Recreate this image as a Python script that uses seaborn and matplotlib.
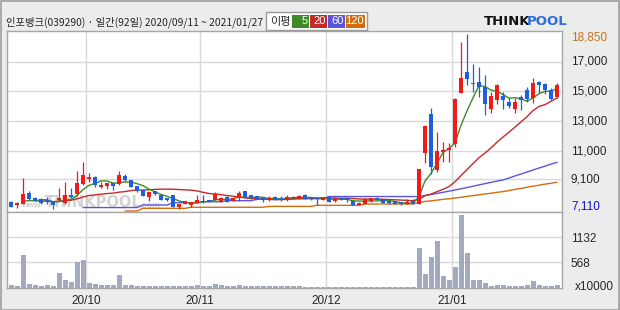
import numpy as np
import pandas as pd
import matplotlib
matplotlib.use("Agg")
import matplotlib.pyplot as plt
import matplotlib.transforms as mtrans
from matplotlib.patches import Rectangle
import seaborn as sns

# ---------------- data ----------------
title = "인포뱅크(039290) · 일간(92일) 2020/09/11 ~ 2021/01/27"
days_by_month = {
    (2020, 9): [11, 14, 15, 16, 17, 18, 21, 22, 23, 24, 25, 28, 29],
    (2020, 10): [5, 6, 7, 8, 12, 13, 14, 15, 16, 19, 20, 21, 22, 23, 26, 27, 28, 29, 30],
    (2020, 11): [2, 3, 4, 5, 6, 9, 10, 11, 12, 13, 16, 17, 18, 19, 20, 23, 24, 25, 26, 27, 30],
    (2020, 12): [1, 2, 3, 4, 7, 8, 9, 10, 11, 14, 15, 16, 17, 18, 21, 22, 23, 24, 28, 29, 30],
    (2021, 1): [4, 5, 6, 7, 8, 11, 12, 13, 14, 15, 18, 19, 20, 21, 22, 25, 26, 27],
}
opens = [7560, 7400, 7470, 8210, 7850, 7760, 7750, 7630, 7720, 7510,
         8070, 8120, 8810, 9130, 9280, 8570, 8680, 8860, 8770, 9350,
         9060, 8660, 8390, 7940, 8300, 8050, 7830, 8050, 7280, 7450,
         7400, 7510, 7650, 7720, 7720, 7600, 7940, 7650, 7830, 8320,
         8050, 7970, 7830, 7760, 7940, 7870, 7760, 7830, 7830, 8070,
         7900, 7870, 7720, 7900, 7650, 7830, 7830, 7630, 7400, 7450,
         7630, 7870, 7780, 7670, 7630, 7580, 7450, 7650, 7480, 10850,
         13480, 9760, 10940, 11050, 11470, 14910, 16280, 15540, 15610, 15280,
         13820, 14420, 14690, 14290, 13820, 14600, 15090, 14540, 15650, 15500,
         15090, 14650]
highs = [7620, 7550, 9210, 8290, 7900, 7820, 7920, 7680, 8550, 8940,
         8520, 9680, 10290, 9550, 9350, 8940, 8860, 8880, 9680, 9440,
         9080, 8680, 8400, 8280, 8320, 8070, 7850, 8080, 7470, 7650,
         7600, 8070, 8020, 7740, 8270, 7890, 7960, 7850, 8300, 8340,
         8070, 7990, 7850, 7990, 8000, 8000, 8030, 7960, 8030, 8140,
         7920, 7890, 7920, 7920, 7890, 7850, 7850, 7650, 7560, 7850,
         7850, 7890, 7800, 7690, 7650, 7600, 7780, 7760, 9810, 12720,
         13870, 12300, 11630, 11570, 14530, 18290, 18850, 16820, 16620, 16100,
         14980, 15500, 14980, 14540, 14540, 14760, 15300, 15880, 15720, 15580,
         15210, 15540]
lows = [7250, 7160, 7430, 7750, 7620, 7450, 7450, 7110, 7680, 7480,
        7870, 7990, 8720, 8940, 8610, 8540, 8430, 8390, 8740, 9000,
        8580, 8230, 7960, 7650, 8020, 7720, 7670, 7220, 7130, 7420,
        7270, 7490, 7540, 7580, 7690, 7580, 7580, 7620, 7650, 7910,
        7810, 7760, 7600, 7650, 7720, 7670, 7670, 7800, 7810, 7760,
        7740, 7360, 7700, 7580, 7580, 7700, 7600, 7380, 7380, 7430,
        7610, 7700, 7510, 7450, 7430, 7410, 7430, 7480, 7460, 10220,
        9460, 9620, 10290, 10290, 11290, 14860, 15430, 14960, 14630, 13420,
        13530, 14160, 13820, 13870, 13530, 13750, 14310, 14240, 14910, 14830,
        14420, 14580]
closes = [7270, 7510, 8120, 7800, 7670, 7510, 7580, 7400, 7870, 8070,
          7900, 8840, 9410, 9280, 8720, 8720, 8840, 8680, 9390, 9040,
          8610, 8350, 7990, 8250, 8130, 7750, 7700, 7250, 7450, 7630,
          7580, 7750, 7560, 7600, 8090, 7870, 7600, 7830, 8210, 7940,
          7830, 7780, 7720, 7870, 7800, 7800, 7940, 7940, 8000, 7780,
          7760, 7780, 7900, 7600, 7870, 7720, 7720, 7400, 7540, 7780,
          7830, 7720, 7540, 7520, 7450, 7430, 7560, 7500, 9800, 12680,
          9950, 11000, 11070, 11180, 14510, 15880, 15830, 15480, 15280, 14160,
          14690, 15430, 14420, 14020, 14310, 14420, 14490, 15580, 15430, 15090,
          14490, 15430]
volumes = [59, 37, 726, 81, 59, 37, 59, 37, 330, 169,
           125, 565, 608, 103, 81, 59, 59, 59, 279, 59,
           59, 37, 37, 37, 37, 37, 37, 37, 37, 37,
           37, 59, 37, 37, 81, 59, 37, 37, 59, 37,
           37, 37, 37, 37, 37, 37, 37, 37, 37, 30,
           30, 30, 30, 30, 30, 30, 30, 30, 30, 30,
           30, 30, 30, 30, 30, 30, 30, 30, 887, 315,
           689, 1034, 264, 176, 462, 1605, 770, 176, 176, 110,
           44, 66, 66, 44, 44, 44, 66, 154, 66, 44,
           44, 66]
nan = np.nan
ma60 = ([nan] * 12 + [7210] * 10 + [7380] * 5 + [7535] * 5 + [7600] * 4 + [7670] * 5
        + [7760] * 4 + [7800] * 8 + [7950] * 16
        + [8020, 8085, 8160, 8230, 8310, 8390, 8470, 8555, 8640, 8730, 8815, 8900,
           8985, 9060, 9190, 9330, 9460, 9590, 9730, 9860, 9990, 10120, 10245])
ma120 = ([nan] * 19 + [6980] * 3 + [7160] * 8 + [7230] * 13 + [7290] * 8 + [7360] * 8
         + [7450] * 9 + [7550]
         + [7620, 7660, 7710, 7760, 7800, 7850, 7900, 7960, 8010, 8070, 8120, 8170,
            8230, 8280, 8350, 8430, 8490, 8570, 8640, 8710, 8780, 8840, 8910])
price_grid = [17000, 15000, 13000, 11000, 9100]
price_grid_labels = ["17,000", "15,000", "13,000", "11,000", "9,100"]
price_max, price_min = 18850, 7110
vol_grid = [1132, 568]
vol_grid_labels = ["1132", "568"]
vol_unit = "x10000"
ma_names = ["5", "20", "60", "120"]

# ---------------- styles ----------------
C_UP, C_DN = "#ee1b1b", "#1f5fdf"
C_MA = ["#3d8b26", "#c42a2a", "#5b55dc", "#d46c0c"]
C_VOL = "#a3aac0"
C_GRID = "#d9d9d9"
C_FRAME = "#a6a6a6"
BG = "#ececec"

sns.set_style("white")
plt.rcParams["font.family"] = ["Liberation Sans", "DejaVu Sans"]

dates = [pd.Timestamp(y, m, d) for (y, m), ds in days_by_month.items() for d in ds]
n = len(dates)
idx = np.arange(n)
df = pd.DataFrame({"i": idx, "open": opens, "high": highs, "low": lows,
                   "close": closes, "vol": volumes, "ma60": ma60, "ma120": ma120})
df["ma5"] = df["close"].rolling(5, min_periods=1).mean()
df["ma20"] = df["close"].rolling(20, min_periods=1).mean()
df.loc[:1, "ma5"] = np.nan
df.loc[:3, "ma20"] = np.nan

month_start = [i for i in range(1, n) if dates[i].month != dates[i - 1].month]
month_labels = [dates[i].strftime("%y/%m") for i in month_start]
month_pos = [i - 0.5 for i in month_start]

W, H = 620, 310
fig = plt.figure(figsize=(W / 100, H / 100), dpi=100)
fig.patch.set_facecolor(BG)

def fx(px):
    return px / W

def fy(py):
    return 1 - py / H

ax = fig.add_axes([fx(7), fy(212), fx(555), 181 / H])
axv = fig.add_axes([fx(7), fy(288), fx(555), 76 / H])

xlim = (-0.67, n - 0.17)
for a in (ax, axv):
    a.set_facecolor("white")
    for s in a.spines.values():
        s.set_color(C_FRAME)
        s.set_linewidth(1.0)
    for p in month_pos:
        a.axvline(p, color=C_GRID, lw=1.0, zorder=0)

for g in price_grid:
    ax.axhline(g, color=C_GRID, lw=1.0, zorder=0)
for g in vol_grid:
    axv.axhline(g, color=C_GRID, lw=1.0, zorder=0)

# watermark
ax.text(1.6, 7330, "www.", color="#cfcfcf", fontsize=6, ha="left", va="center", zorder=1, fontweight="bold")
ax.text(5.6, 7520, "THINKPOOL", color="#d2d2d2", fontsize=10.5, ha="left", va="center", zorder=1,
        fontweight="bold", family="DejaVu Sans")
ax.text(21.4, 7330, ".com", color="#cfcfcf", fontsize=6.5, ha="left", va="center", zorder=1, fontweight="bold")

# moving averages
for col, c in zip(["ma120", "ma60", "ma20", "ma5"], C_MA[::-1]):
    sns.lineplot(data=df, x="i", y=col, ax=ax, color=c, linewidth=1.0, zorder=2)

# candles
up = df["close"] >= df["open"]
colors = np.where(up, C_UP, C_DN)
body_lo = np.minimum(df["open"], df["close"])
body_h = np.maximum(np.abs(df["close"] - df["open"]), 60)
ax.vlines(df["i"], df["low"], df["high"], colors=colors, linewidth=0.9, zorder=3)
ax.bar(df["i"], body_h, bottom=body_lo, width=0.8, color=colors, linewidth=0, zorder=4)

ax.set_xlim(*xlim)
ax.set_ylim(6912, 19051)
ax.set_xticks([])
ax.set_yticks([])
ax.set_xlabel("")
ax.set_ylabel("")

# volume
sns.barplot(data=df, x="i", y="vol", ax=axv, native_scale=True, color=C_VOL,
            saturation=1, width=0.83, errorbar=None, linewidth=0, zorder=3)
axv.set_xlim(*xlim)
axv.set_ylim(0, 1672)
axv.set_yticks([])
axv.set_xticks(month_pos)
axv.set_xticklabels(month_labels, fontsize=8.5)
axv.tick_params(axis="x", length=0, pad=5)
axv.set_xlabel("")
axv.set_ylabel("")

# right-hand labels
ytr = ax.get_yaxis_transform()
for g, lab in zip(price_grid, price_grid_labels):
    ax.text(1.016, g, lab, transform=ytr, ha="left", va="center", fontsize=8.5, clip_on=False)
ax.text(1.016, price_max, f"{price_max:,}", ha="left", va="center", fontsize=8.5, color="#d07018",
        transform=mtrans.offset_copy(ytr, fig=fig, y=-2.2, units="points"), clip_on=False)
ax.text(1.016, price_min, f"{price_min:,}", ha="left", va="center", fontsize=8.5, color="#1010c8",
        transform=mtrans.offset_copy(ytr, fig=fig, y=1.7, units="points"), clip_on=False)
vtr = mtrans.offset_copy(axv.get_yaxis_transform(), fig=fig, y=-1.6, units="points")
for g, lab in zip(vol_grid, vol_grid_labels):
    axv.text(1.016, g, lab, transform=vtr, ha="left", va="center", fontsize=8.5, clip_on=False)
fig.text(fx(575), fy(287), vol_unit, ha="left", va="center", fontsize=8.5)

# title
fig.text(fx(6), fy(22), title, ha="left", va="center", fontsize=7.4,
         family=["Noto Sans CJK KR", "DejaVu Sans"])

# MA legend box
fig.add_artist(Rectangle((fx(266), fy(30)), fx(101), 18 / H, transform=fig.transFigure,
                         facecolor="white", edgecolor="#9a9a9a", linewidth=1))
fig.text(fx(270), fy(21.5), "이평", ha="left", va="center", fontsize=8,
         family=["Noto Sans CJK KR", "DejaVu Sans"])
box_x = [292, 310, 328, 346]
box_w = [17, 17, 17, 19]
for bx, bw, c, lab in zip(box_x, box_w, C_MA, ma_names):
    fig.add_artist(Rectangle((fx(bx), fy(28)), fx(bw), 13 / H, transform=fig.transFigure,
                             facecolor=c, edgecolor="none"))
    fig.text(fx(bx + bw - 1.5), fy(21.5), lab, ha="right", va="center", fontsize=8, color="white")

# logo
fig.text(fx(484), fy(21.5), "THINK", ha="left", va="center", fontsize=9.5, fontweight="bold",
         color="#111111", family="DejaVu Sans")
fig.text(fx(527), fy(21.5), "POOL", ha="left", va="center", fontsize=9.5, fontweight="bold",
         color="#2c6fd8", family="DejaVu Sans")

# outer frame
fig.add_artist(Rectangle((0.5 / W, 0.5 / H), 1 - 1.5 / W, 1 - 1.5 / H, transform=fig.transFigure,
                         facecolor="none", edgecolor="#a0a0a0", linewidth=1.2))

fig.savefig("out.png", dpi=100, facecolor=BG)
